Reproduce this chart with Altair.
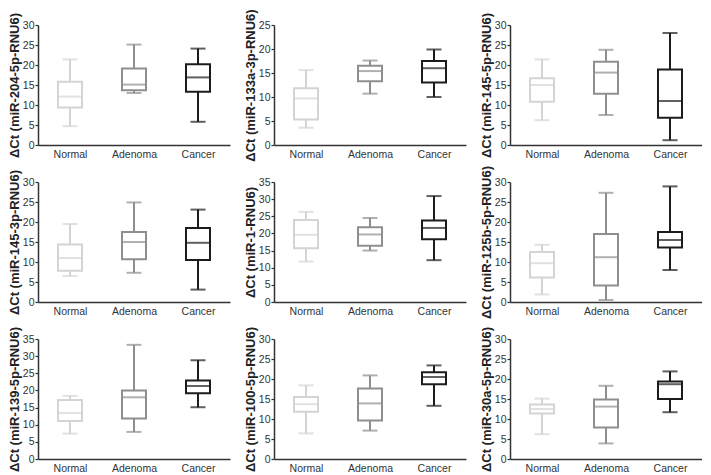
import altair as alt
import pandas as pd

groups = ["Normal", "Adenoma", "Cancer"]
colors = ["#d4d4d4", "#8e8e8e", "#1c1c1c"]

titles = [
    "ΔCt (miR-204-5p-RNU6)", "ΔCt (miR-133a-3p-RNU6)", "ΔCt (miR-145-5p-RNU6)",
    "ΔCt (miR-145-3p-RNU6)", "ΔCt (miR-1-RNU6)", "ΔCt (miR-125b-5p-RNU6)",
    "ΔCt (miR-139-5p-RNU6)", "ΔCt (miR-100-5p-RNU6)", "ΔCt (miR-30a-5p-RNU6)",
]
y_max = [30, 25, 30, 30, 35, 30, 35, 30, 30]

# per panel: [Normal, Adenoma, Cancer]
whisker_low = [
    [4.7, 13.0, 5.8], [3.6, 10.7, 10.0], [6.2, 7.5, 1.2],
    [6.5, 7.3, 3.1], [11.8, 15.0, 12.2], [1.9, 0.5, 8.0],
    [7.4, 7.9, 15.1], [6.4, 7.1, 13.3], [6.2, 3.9, 11.7],
]
q1 = [
    [9.4, 13.7, 13.3], [5.3, 13.3, 13.0], [10.8, 12.8, 6.8],
    [7.8, 10.7, 10.5], [15.7, 16.4, 18.3], [6.1, 4.1, 13.6],
    [11.1, 11.8, 19.2], [11.8, 9.6, 18.7], [11.4, 7.9, 15.0],
]
median = [
    [12.1, 15.1, 16.9], [9.7, 15.4, 16.0], [15.0, 18.1, 11.0],
    [11.0, 15.0, 14.8], [19.6, 19.7, 21.6], [9.7, 11.2, 15.5],
    [13.4, 18.0, 21.3], [13.7, 13.9, 20.5], [12.5, 13.1, 18.7],
]
q3 = [
    [15.8, 19.1, 20.2], [11.8, 16.5, 17.5], [16.7, 20.8, 18.9],
    [14.4, 17.5, 18.5], [23.9, 21.8, 23.8], [12.5, 17.0, 17.5],
    [17.2, 20.0, 22.9], [15.5, 17.6, 21.7], [13.6, 14.9, 19.4],
]
whisker_high = [
    [21.4, 25.1, 24.1], [15.6, 17.6, 19.9], [21.4, 23.8, 28.0],
    [19.5, 24.9, 23.1], [26.3, 24.5, 30.9], [14.3, 27.3, 28.9],
    [18.4, 33.3, 28.8], [18.4, 20.9, 23.4], [15.1, 18.3, 21.9],
]

PANEL_W = 192
PANEL_H = 120
BOX_W = 24
CAP_W = 15
LW = 2

panels = []
for i, title in enumerate(titles):
    df = pd.DataFrame({
        "group": groups,
        "lo": whisker_low[i],
        "q1": q1[i],
        "med": median[i],
        "q3": q3[i],
        "hi": whisker_high[i],
    })
    xenc = alt.X(
        "group:N", sort=groups,
        scale=alt.Scale(type="point", domain=groups, padding=0.5),
        axis=alt.Axis(title=None, labelAngle=0, ticks=False, tickSize=0, labelPadding=4),
    )
    yscale = alt.Scale(domain=[0, y_max[i]], nice=False, zero=True)
    yaxis = alt.Axis(title=title, values=list(range(0, y_max[i] + 1, 5)), grid=False)
    col = alt.Color("group:N", scale=alt.Scale(domain=groups, range=colors), legend=None)
    stk = alt.Stroke("group:N", scale=alt.Scale(domain=groups, range=colors), legend=None)

    def Y(f):
        return alt.Y(f"{f}:Q", scale=yscale, axis=yaxis, title=title)

    base = alt.Chart(df).encode(x=xenc)
    w_low = base.mark_rule(strokeWidth=LW).encode(y=Y("lo"), y2="q1:Q", color=col)
    w_high = base.mark_rule(strokeWidth=LW).encode(y=Y("q3"), y2="hi:Q", color=col)
    box = base.mark_bar(size=BOX_W, fill="white", strokeWidth=LW).encode(
        y=Y("q1"), y2="q3:Q", stroke=stk)
    med = base.mark_tick(size=BOX_W, thickness=LW).encode(y=Y("med"), color=col)
    cap_lo = base.mark_tick(size=CAP_W, thickness=LW).encode(y=Y("lo"), color=col)
    cap_hi = base.mark_tick(size=CAP_W, thickness=LW).encode(y=Y("hi"), color=col)

    panel = alt.layer(w_low, w_high, box, med, cap_lo, cap_hi).properties(
        width=PANEL_W, height=PANEL_H)
    panels.append(panel)

chart = alt.concat(
    *panels, columns=3,
    spacing=alt.RowColnumber(row=37, column=44),
    bounds="flush",
).properties(
    padding={"left": 0, "top": 0, "right": 0, "bottom": 0}
).configure_view(stroke=None).configure_axis(
    grid=False,
    domainColor="#333333",
    domainWidth=1.5,
    tickColor="#333333",
    tickWidth=1.2,
    labelColor="#333333",
    labelFont="Liberation Sans",
    labelFontSize=10.5,
    titleFont="Liberation Sans",
    titleFontSize=13,
    titleFontWeight="bold",
    titleColor="#222222",
).configure_axisY(
    tickSize=3,
    labelPadding=1,
    titlePadding=1,
)

chart.save("out.html", embed_options={"renderer": "svg", "actions": False})
